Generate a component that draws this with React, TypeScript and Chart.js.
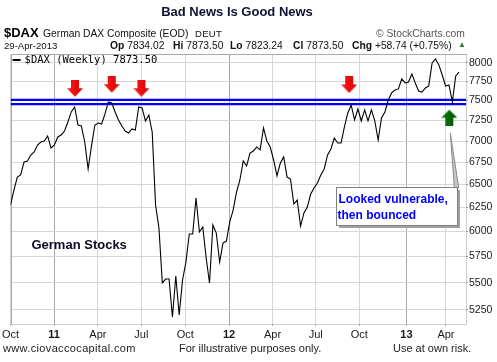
import React, { useEffect, useRef } from "react";
import { Chart, registerables } from "chart.js";

Chart.register(...registerables);

const FONT = "'Liberation Sans', Arial, Helvetica, sans-serif";
const MONO = "'DejaVu Sans Mono', monospace";

// Weekly closes of $DAX, week 0 = first week of Oct 2010
const daxWeekly: number[] = [
  6278, 6440, 6584, 6607, 6755, 6766, 6836, 6871, 6953, 6989,
  7001, 7061, 6918, 6953, 7049, 7073, 7121, 7231, 7356, 7418,
  7194, 7182, 6989, 6675, 6942, 7194, 7219, 7207, 7331, 7482,
  7469, 7356, 7256, 7182, 7121, 7097, 7146, 7133, 7418, 7406,
  7244, 7318, 7109, 6278, 6037, 5497, 5534, 5534, 5187, 5563,
  5205, 5525, 5697, 5975, 5975, 6353, 5996, 6047, 5736, 5497,
  6068, 5985, 5697, 5884, 5904, 6099, 6224, 6418, 6551, 6766,
  6709, 6859, 6883, 6930, 6894, 7158, 7001, 6930, 6778, 6596,
  6743, 6813, 6584, 6562, 6288, 6331, 6057, 6193, 6256, 6396,
  6462, 6518, 6607, 6675, 6836, 6906, 7037, 6977, 6977, 7170,
  7343, 7444, 7256, 7393, 7244, 7381, 7244, 7381, 7244, 7013,
  7281, 7356, 7507, 7598, 7636, 7650, 7781, 7728, 7741, 7848,
  7728, 7623, 7610, 7663, 7689, 7996, 8051, 7969, 7834, 7689,
  7702, 7482, 7821, 7873.5,
];

const supportLevels = [7510, 7455];

const xTickWeeks = [0, 12.9, 25.9, 38.8, 51.8, 64.8, 77.7, 90.5, 103.4, 117.4, 129.1];
const xTickLabels = ["Oct", "11", "Apr", "Jul", "Oct", "12", "Apr", "Jul", "Oct", "13", "Apr"];
const yTickValues = [5250, 5500, 5750, 6000, 6250, 6500, 6750, 7000, 7250, 7500, 7750, 8000];

const resistanceWeeks = [19.1, 30.0, 38.8, 100.4];
const resistanceValues = [7653, 7706, 7653, 7702];
const bounceWeeks = [130.1];
const bounceValues = [7284];

const X_MIN = 0;
const X_MAX = 135.05;
const Y_MIN = 5126;
const Y_MAX = 8119;

const CALLOUT = {
  left: 96.6,
  right: 132.3,
  top: 6470,
  bottom: 6068,
  tipWeek: 130.4,
  tipValue: 7097,
  baseWeekA: 131.6,
  baseWeekB: 132.9,
  lines: ["Looked vulnerable,", "then bounced"],
};
const STOCK_LABEL = { week: 6.2, value: 5864, text: "German Stocks" };
const LEGEND_TEXT = "$DAX (Weekly) ";

const isYear = (i: number) => /^\d+$/.test(xTickLabels[i] ?? "");

function makeArrow(up: boolean, light: string, dark: string): HTMLCanvasElement {
  const c = document.createElement("canvas");
  c.width = 16;
  c.height = 17;
  const g = c.getContext("2d")!;
  const grad = g.createLinearGradient(0, 0, 16, 0);
  grad.addColorStop(0, light);
  grad.addColorStop(1, dark);
  g.fillStyle = grad;
  g.beginPath();
  if (!up) {
    g.moveTo(4, 0);
    g.lineTo(12, 0);
    g.lineTo(12, 8);
    g.lineTo(16, 8);
    g.lineTo(8, 16.5);
    g.lineTo(0, 8);
    g.lineTo(4, 8);
  } else {
    g.moveTo(8, 0.5);
    g.lineTo(16, 8.5);
    g.lineTo(12, 8.5);
    g.lineTo(12, 17);
    g.lineTo(4, 17);
    g.lineTo(4, 8.5);
    g.lineTo(0, 8.5);
  }
  g.closePath();
  g.fill();
  return c;
}

const annotationPlugin = {
  id: "annotations",
  beforeDatasetsDraw(chart: any) {
    const { ctx, chartArea: a } = chart;
    const L = Math.round(a.left) + 0.5;
    const T = Math.round(a.top) + 0.5;
    const R = Math.round(a.right) + 0.5;
    const B = Math.round(a.bottom) + 0.5;
    ctx.save();
    ctx.strokeStyle = "#a8a8a8";
    ctx.lineWidth = 1;
    ctx.beginPath();
    ctx.moveTo(L, B);
    ctx.lineTo(L, T);
    ctx.lineTo(R, T);
    ctx.stroke();
    // dotted axis lines (bottom, right)
    ctx.strokeStyle = "#9a9a9a";
    ctx.setLineDash([1, 1]);
    ctx.beginPath();
    ctx.moveTo(L, B);
    ctx.lineTo(R, B);
    ctx.moveTo(R, T);
    ctx.lineTo(R, B);
    ctx.stroke();
    ctx.restore();
  },
  afterDatasetsDraw(chart: any) {
    const { ctx, chartArea: a } = chart;
    const xs = chart.scales.x;
    const ys = chart.scales.y;
    ctx.save();

    // legend line
    ctx.fillStyle = "#000";
    ctx.fillRect(a.left + 2, a.top + 5, 8, 2);
    ctx.font = `10.5px ${MONO}`;
    ctx.textBaseline = "middle";
    ctx.textAlign = "left";
    ctx.fillText(LEGEND_TEXT + daxWeekly[daxWeekly.length - 1].toFixed(2), a.left + 14, a.top + 6);

    // German Stocks label
    ctx.font = `bold 13px ${FONT}`;
    ctx.fillStyle = "#0a0a24";
    ctx.textBaseline = "middle";
    ctx.fillText(STOCK_LABEL.text, xs.getPixelForValue(STOCK_LABEL.week), ys.getPixelForValue(STOCK_LABEL.value));

    // callout pointer
    const bl = Math.round(xs.getPixelForValue(CALLOUT.left));
    const br = Math.round(xs.getPixelForValue(CALLOUT.right));
    const bt = Math.round(ys.getPixelForValue(CALLOUT.top));
    const bb = Math.round(ys.getPixelForValue(CALLOUT.bottom));
    const tx = xs.getPixelForValue(CALLOUT.tipWeek);
    const ty = ys.getPixelForValue(CALLOUT.tipValue);
    ctx.beginPath();
    ctx.moveTo(tx, ty);
    ctx.lineTo(xs.getPixelForValue(CALLOUT.baseWeekB), bt + 1);
    ctx.lineTo(xs.getPixelForValue(CALLOUT.baseWeekA), bt + 1);
    ctx.closePath();
    ctx.fillStyle = "#c8c8c8";
    ctx.fill();
    ctx.strokeStyle = "#8a8a8a";
    ctx.lineWidth = 1;
    ctx.stroke();

    // shadow
    ctx.fillStyle = "#a0a0a0";
    ctx.fillRect(bl + 3, bt + 3, br - bl, bb - bt);
    // box
    ctx.fillStyle = "#ffffff";
    ctx.fillRect(bl, bt, br - bl, bb - bt);
    ctx.strokeStyle = "#808080";
    ctx.strokeRect(bl + 0.5, bt + 0.5, br - bl, bb - bt);

    ctx.fillStyle = "#0000ff";
    ctx.font = `bold 12px ${FONT}`;
    ctx.textBaseline = "alphabetic";
    ctx.fillText(CALLOUT.lines[0], bl + 2.5, bt + 16);
    ctx.fillText(CALLOUT.lines[1], bl + 1.5, bt + 31.5);

    ctx.restore();
  },
};

function DaxChart() {
  const ref = useRef<HTMLCanvasElement | null>(null);
  useEffect(() => {
    if (!ref.current) return;
    const redArrow = makeArrow(false, "#ff1a1a", "#d80000");
    const greenArrow = makeArrow(true, "#0a7a0a", "#005200");
    const chart = new Chart(ref.current, {
      type: "line",
      data: {
        datasets: [
          {
            data: resistanceWeeks.map((w, i) => ({ x: w, y: resistanceValues[i] })),
            showLine: false,
            pointStyle: redArrow as any,
            pointRadius: 8,
            order: 0,
          },
          {
            data: bounceWeeks.map((w, i) => ({ x: w, y: bounceValues[i] })),
            showLine: false,
            pointStyle: greenArrow as any,
            pointRadius: 8,
            order: 0,
          },
          {
            data: daxWeekly.map((v, i) => ({ x: i, y: v })),
            borderColor: "#000000",
            borderWidth: 1.1,
            pointRadius: 0,
            tension: 0,
            order: 1,
          },
          ...supportLevels.map((lvl) => ({
            data: [
              { x: X_MIN, y: lvl },
              { x: X_MAX, y: lvl },
            ],
            borderColor: "#0000ff",
            borderWidth: 2.2,
            pointRadius: 0,
            order: 2,
          })),
        ] as any,
      },
      options: {
        animation: false,
        responsive: false,
        devicePixelRatio: 1,
        events: [],
        layout: { padding: { top: 54, left: 6, right: 0, bottom: 0 }, autoPadding: false } as any,
        plugins: { legend: { display: false }, tooltip: { enabled: false } },
        scales: {
          x: {
            type: "linear",
            min: X_MIN,
            max: X_MAX,
            position: "bottom",
            afterBuildTicks: (s: any) => {
              s.ticks = xTickWeeks.map((v) => ({ value: v }));
            },
            afterFit: (s: any) => {
              s.height = 38;
            },
            grid: {
              color: (c: any) => (isYear(c.index) ? "#a8a8a8" : "#d6d6d6"),
              lineWidth: 1,
              drawTicks: true,
              tickLength: 2,
              tickColor: "#b0b0b0",
            },
            border: { display: false },
            ticks: {
              autoSkip: false,
              maxRotation: 0,
              minRotation: 0,
              padding: 2,
              color: "#1a1a1a",
              font: (c: any) => ({ family: FONT, size: 11, weight: isYear(c.index) ? "bold" : "normal" }),
              callback: (_v: any, i: number) => xTickLabels[i],
            },
          },
          y: {
            type: "logarithmic",
            position: "right",
            min: Y_MIN,
            max: Y_MAX,
            afterBuildTicks: (s: any) => {
              s.ticks = yTickValues.map((v) => ({ value: v }));
            },
            afterFit: (s: any) => {
              s.width = 31;
            },
            grid: {
              color: "#d6d6d6",
              lineWidth: 1,
              drawTicks: true,
              tickLength: 2,
              tickColor: "#a0a0a0",
            },
            border: { display: false },
            ticks: {
              padding: 1,
              color: "#1a1a1a",
              font: { family: FONT, size: 10.5 },
              callback: (v: any) => String(v),
            },
          },
        },
      },
      plugins: [annotationPlugin],
    });
    return () => chart.destroy();
  }, []);
  return (
    <canvas
      ref={ref}
      width={497}
      height={362}
      style={{ position: "absolute", left: 0, top: 0, width: 497, height: 362 }}
    />
  );
}

const txt = (extra: React.CSSProperties): React.CSSProperties => ({
  position: "absolute",
  fontFamily: FONT,
  whiteSpace: "pre",
  lineHeight: "14px",
  color: "#111",
  zIndex: 2,
  ...extra,
});

export default function App() {
  return (
    <div
      style={{
        position: "fixed",
        left: 0,
        top: 0,
        width: 497,
        height: 362,
        background: "#ffffff",
        overflow: "hidden",
      }}
    >
      <DaxChart />
      <div style={txt({ left: 0, width: 474, top: 5, textAlign: "center", fontSize: 13, fontWeight: "bold", color: "#111133" })}>
        Bad News Is Good News
      </div>
      <div style={txt({ left: 4, top: 26, fontSize: 13, fontWeight: "bold", color: "#000" })}>$DAX</div>
      <div style={txt({ left: 43, top: 27, fontSize: 10.3, color: "#111" })}>German DAX Composite (EOD)</div>
      <div style={txt({ left: 195, top: 27, fontSize: 9.5, color: "#111", letterSpacing: "0.3px" })}>DEUT</div>
      <div style={txt({ left: 376, top: 27, fontSize: 10.3, color: "#555" })}>{"\u00A9 StockCharts.com"}</div>
      <div style={txt({ left: 4, top: 39, fontSize: 9.6, color: "#111" })}>29-Apr-2013</div>
      <div style={txt({ left: 110, top: 39, fontSize: 10.3 })}>
        <b>Op</b> 7834.02
      </div>
      <div style={txt({ left: 173, top: 39, fontSize: 10.3 })}>
        <b>Hi</b> 7873.50
      </div>
      <div style={txt({ left: 230, top: 39, fontSize: 10.3 })}>
        <b>Lo</b> 7823.24
      </div>
      <div style={txt({ left: 293, top: 39, fontSize: 10.3 })}>
        <b>Cl</b> 7873.50
      </div>
      <div style={txt({ left: 352, top: 39, fontSize: 10.3 })}>
        <b>Chg</b> +58.74 (+0.75%)
      </div>
      <div style={txt({ left: 458, top: 38, fontSize: 8, color: "#2e7d32" })}>{"\u25B2"}</div>
      <div style={txt({ left: 3, top: 341, fontSize: 11, color: "#222", letterSpacing: "0.35px" })}>
        www.ciovaccocapital.com
      </div>
      <div style={txt({ left: 179, top: 341, fontSize: 11, color: "#222" })}>For illustrative purposes only.</div>
      <div style={txt({ left: 393, top: 341, fontSize: 11, color: "#222" })}>Use at own risk.</div>
    </div>
  );
}
